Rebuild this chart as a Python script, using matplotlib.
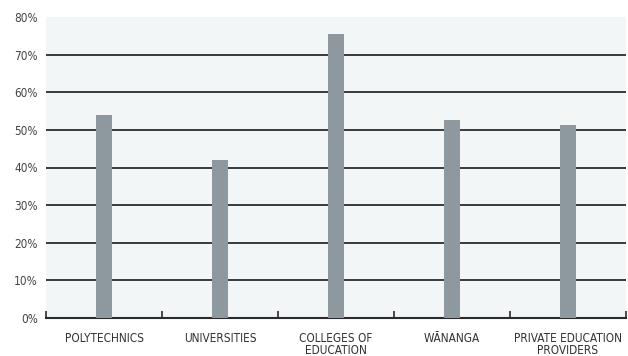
import numpy as np
import matplotlib.pyplot as plt

# Share of students by provider type
providers = ["POLYTECHNICS", "UNIVERSITIES", "COLLEGES OF\nEDUCATION", "WĀNANGA", "PRIVATE EDUCATION\nPROVIDERS"]
shares = [53.9, 41.9, 75.5, 52.5, 51.2]
y_ticks = [0, 10, 20, 30, 40, 50, 60, 70, 80]

plt.rcParams["font.family"] = ["DejaVu Sans"]
plt.rcParams["font.stretch"] = "condensed"

fig = plt.figure(figsize=(6.28, 3.56), dpi=100)
ax = fig.add_axes([46 / 628, 1 - 318 / 356, 580 / 628, 301 / 356])
ax.set_facecolor("#f3f6f7")

x = np.arange(len(providers))
ax.bar(x, shares, width=0.14, color="#8d999e", zorder=3)

# Horizontal rules between 10% and 70%
for v in y_ticks[1:-1]:
    ax.axhline(v, color="#2b2b2b", linewidth=1.3, zorder=2)

ax.set_xlim(-0.5, len(providers) - 0.5)
ax.set_ylim(0, 80)
ax.set_yticks(y_ticks)
ax.set_yticklabels([f"{v}%" for v in y_ticks], fontsize=8.5, color="#444444")
ax.tick_params(axis="y", length=0, pad=6)

ax.set_xticks(x)
ax.set_xticklabels(providers, fontsize=8.5, color="#333333", linespacing=0.9, va="top")
ax.tick_params(axis="x", which="major", length=0, pad=10)
ax.set_xticks(np.arange(-0.5, len(providers)), minor=True)
ax.tick_params(axis="x", which="minor", direction="in", length=5, width=1.2, color="#2b2b2b")

for side in ["top", "right", "left"]:
    ax.spines[side].set_visible(False)
ax.spines["bottom"].set_color("#2b2b2b")
ax.spines["bottom"].set_linewidth(1.5)

fig.savefig("out.png", dpi=100)
